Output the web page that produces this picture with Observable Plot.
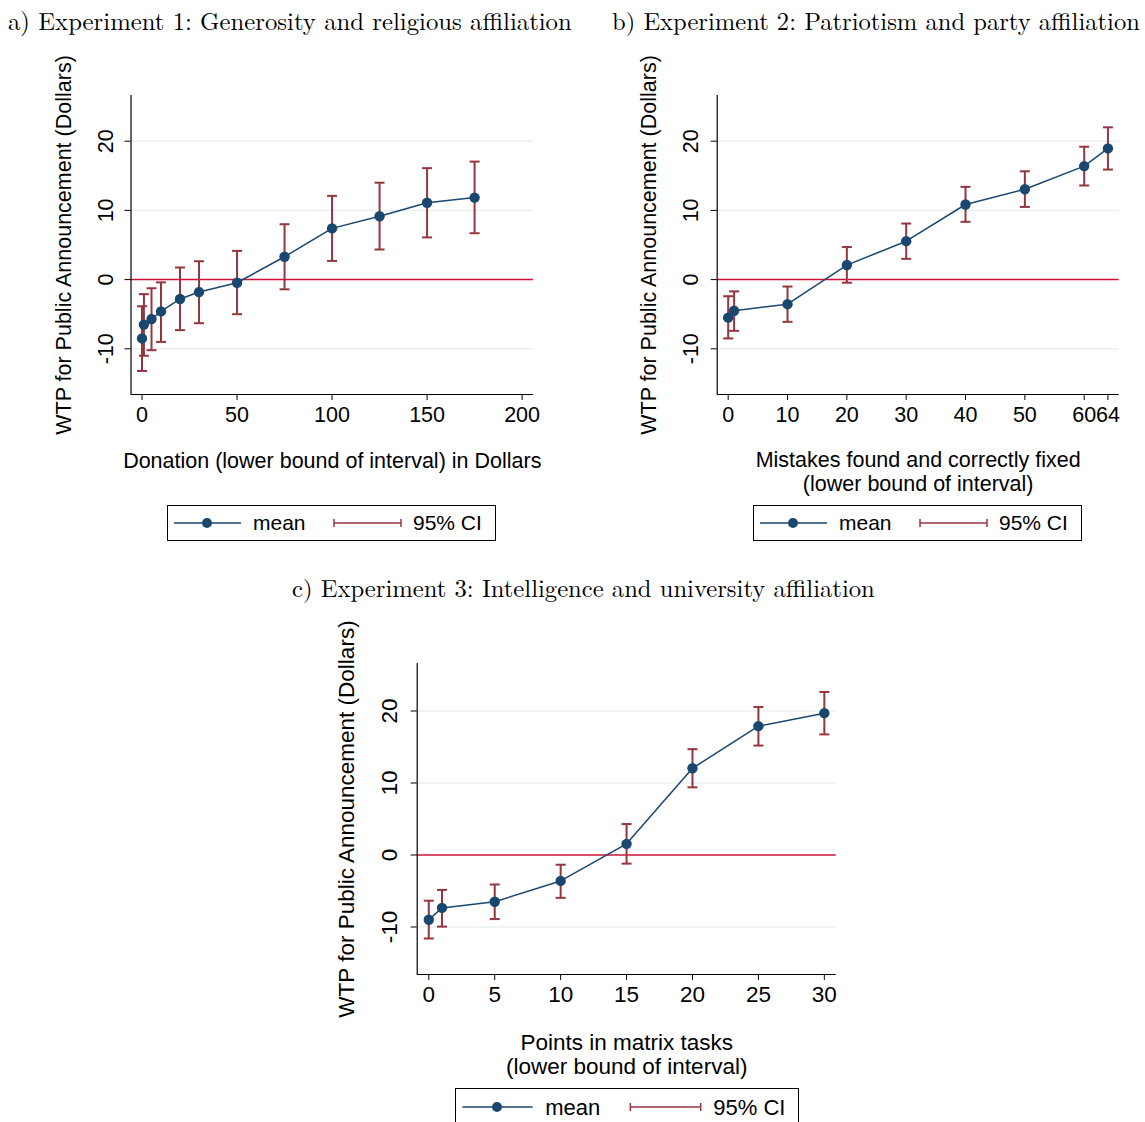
<!DOCTYPE html>
<html>
<head>
<meta charset="utf-8">
<script src="https://cdn.jsdelivr.net/npm/d3@7"></script>
<script src="https://cdn.jsdelivr.net/npm/@observablehq/plot@0.6"></script>
<style>
  html, body { margin: 0; padding: 0; background: #fff; }
  #wrap { position: relative; width: 1145px; height: 1122px; overflow: hidden; background: #fff; }
  .title { position: absolute; white-space: nowrap; font-family: "Latin Modern Roman", "Liberation Serif", "DejaVu Serif", serif; color: #000; line-height: 1; }
  .panel { position: absolute; }
  .legend { position: absolute; }
</style>
</head>
<body>
<div id="wrap"></div>
<script>
// ---------- data ----------
const yTicks = [-10, 0, 10, 20];
const gridTicks = [-10, 10, 20];

const aTitle = "a) Experiment 1: Generosity and religious affiliation";
const aX    = [0, 1, 5, 10, 20, 30, 50, 75, 100, 125, 150, 175];
const aMean = [-8.5, -6.5, -5.7, -4.6, -2.8, -1.8, -0.45, 3.3, 7.4, 9.15, 11.1, 11.85];
const aLo   = [-13.2, -11.0, -10.2, -9.0, -7.3, -6.3, -5.0, -1.4, 2.7, 4.35, 6.1, 6.7];
const aHi   = [-3.85, -2.1, -1.25, -0.4, 1.75, 2.65, 4.15, 8.0, 12.1, 14.0, 16.1, 17.05];
const aTicks = [0, 50, 100, 150, 200];
const aXTitle = "Donation (lower bound of interval) in Dollars";

const bTitle = "b) Experiment 2: Patriotism and party affiliation";
const bX    = [0, 1, 10, 20, 30, 40, 50, 60, 64];
const bMean = [-5.5, -4.5, -3.55, 2.1, 5.55, 10.85, 13.05, 16.4, 18.95];
const bLo   = [-8.5, -7.4, -6.1, -0.45, 3.0, 8.35, 10.5, 13.6, 15.9];
const bHi   = [-2.4, -1.7, -1.0, 4.7, 8.1, 13.4, 15.65, 19.2, 22.0];
const bTicks = [0, 10, 20, 30, 40, 50, 60, 64];
const bXTitle = "Mistakes found and correctly fixed\n(lower bound of interval)";

const cTitle = "c) Experiment 3: Intelligence and university affiliation";
const cX    = [0, 1, 5, 10, 15, 20, 25, 30];
const cMean = [-9.0, -7.35, -6.5, -3.6, 1.55, 12.05, 17.9, 19.7];
const cLo   = [-11.6, -9.95, -8.9, -5.95, -1.2, 9.4, 15.2, 16.75];
const cHi   = [-6.35, -4.85, -4.1, -1.35, 4.3, 14.7, 20.55, 22.65];
const cTicks = [0, 5, 10, 15, 20, 25, 30];
const cXTitle = "Points in matrix tasks\n(lower bound of interval)";

const yLabel = "WTP for Public Announcement (Dollars)";
const legendLabels = ["mean", "95% CI"];

// ---------- style ----------
const NAVY = "#1a476f";
const CI = "#93363f";
const ZERO = "#d0103a";
const GRID = "#e8eff1";
const SANS = "'Liberation Sans', Arial, Helvetica, sans-serif";

const rowsOf = (xs, m, lo, hi) => xs.map((x, i) => ({x, mean: m[i], lo: lo[i], hi: hi[i]}));

const capSymbol = {
  draw(ctx, size) {
    const r = Math.sqrt(size / Math.PI);
    ctx.moveTo(-r, 0);
    ctx.lineTo(r, 0);
  }
};

const wrap = document.getElementById("wrap");

function panel(cfg) {
  const {box, frame, xDomain, yDomain, xTicks, rows, xTitle, titleDy, fs, ylabDx, yTickDx} = cfg;
  const width = box.r - box.l, height = box.b - box.t;
  const chart = Plot.plot({
    width, height,
    marginLeft: frame.l - box.l,
    marginRight: box.r - frame.r,
    marginTop: frame.t - box.t,
    marginBottom: box.b - frame.b,
    x: {domain: xDomain},
    y: {domain: yDomain},
    style: {fontFamily: SANS, fontSize: fs + "px", color: "#000", background: "transparent", overflow: "visible"},
    marks: [
      Plot.ruleY(gridTicks, {stroke: GRID, strokeWidth: 1.5}),
      Plot.ruleY([0], {stroke: ZERO, strokeWidth: 1.5}),
      Plot.ruleX([xDomain[0]], {stroke: "#000", strokeWidth: 1.2}),
      Plot.ruleY([yDomain[0]], {stroke: "#000", strokeWidth: 1.2}),
      Plot.axisX({ticks: xTicks, tickSize: 6, tickPadding: 6, tickFormat: d => String(d), label: null, fontSize: fs}),
      Plot.axisY({ticks: yTicks, tickSize: 6, tickFormat: () => "", label: null}),
      Plot.text(yTicks, {y: d => d, text: d => String(d), frameAnchor: "left", dx: yTickDx, rotate: -90, textAnchor: "middle", lineAnchor: "middle", fontSize: fs}),
      Plot.text([yLabel], {text: d => d, frameAnchor: "left", dx: ylabDx, rotate: -90, textAnchor: "middle", lineAnchor: "middle", fontSize: fs}),
      Plot.text([xTitle], {text: d => d, frameAnchor: "bottom", dy: titleDy, lineAnchor: "middle", lineHeight: 1.08, fontSize: fs}),
      Plot.line(rows, {x: "x", y: "mean", stroke: NAVY, strokeWidth: 1.5}),
      Plot.ruleX(rows, {x: "x", y1: "lo", y2: "hi", stroke: CI, strokeWidth: 2}),
      Plot.dot(rows, {x: "x", y: "lo", symbol: capSymbol, r: 5, fill: "none", stroke: CI, strokeWidth: 2}),
      Plot.dot(rows, {x: "x", y: "hi", symbol: capSymbol, r: 5, fill: "none", stroke: CI, strokeWidth: 2}),
      Plot.dot(rows, {x: "x", y: "mean", r: 5.2, fill: NAVY})
    ]
  });
  const div = document.createElement("div");
  div.className = "panel";
  div.style.left = box.l + "px";
  div.style.top = box.t + "px";
  div.appendChild(chart);
  wrap.appendChild(div);
}

function legend(left, top, w, h, s, fs) {
  const div = document.createElement("div");
  div.className = "legend";
  div.style.left = left + "px";
  div.style.top = top + "px";
  const cy = h / 2;
  div.innerHTML = `<svg width="${w}" height="${h}" style="font-family:${SANS};font-size:${fs}px">
    <rect x="0.5" y="0.5" width="${w - 1}" height="${h - 1}" fill="#fff" stroke="#000" stroke-width="1"/>
    <line x1="${7*s}" x2="${74*s}" y1="${cy}" y2="${cy}" stroke="${NAVY}" stroke-width="1.5"/>
    <circle cx="${40*s}" cy="${cy}" r="5" fill="${NAVY}"/>
    <text x="${86*s}" y="${cy}" dy="0.35em" fill="#000">${legendLabels[0]}</text>
    <line x1="${167*s}" x2="${234*s}" y1="${cy}" y2="${cy}" stroke="${CI}" stroke-width="1.5"/>
    <line x1="${167*s}" x2="${167*s}" y1="${cy-4}" y2="${cy+4}" stroke="${CI}" stroke-width="1.5"/>
    <line x1="${234*s}" x2="${234*s}" y1="${cy-4}" y2="${cy+4}" stroke="${CI}" stroke-width="1.5"/>
    <text x="${246*s}" y="${cy}" dy="0.35em" fill="#000">${legendLabels[1]}</text>
  </svg>`;
  wrap.appendChild(div);
}

function title(text, left, baseline, targetW) {
  const d = document.createElement("div");
  d.className = "title";
  d.textContent = text;
  d.style.fontSize = "23px";
  wrap.appendChild(d);
  const w = d.getBoundingClientRect().width;
  const fs = 23 * targetW / w;
  d.style.fontSize = fs + "px";
  d.style.left = left + "px";
  d.style.top = (baseline - fs * 0.86) + "px";
}

// ---------- panels ----------
panel({
  box: {l: 0, t: 40, r: 565, b: 500},
  frame: {l: 130.5, t: 95, r: 533, b: 394},
  xDomain: [-5.8, 206], yDomain: [-16.6, 26.6],
  xTicks: aTicks, rows: rowsOf(aX, aMean, aLo, aHi),
  xTitle: aXTitle, titleDy: 66, fs: 21.5, ylabDx: -67, yTickDx: -25
});
panel({
  box: {l: 580, t: 40, r: 1145, b: 500},
  frame: {l: 716.7, t: 95, r: 1118.7, b: 394},
  xDomain: [-1.85, 65.9], yDomain: [-16.6, 26.6],
  xTicks: bTicks, rows: rowsOf(bX, bMean, bLo, bHi),
  xTitle: bXTitle, titleDy: 77, fs: 21.5, ylabDx: -68, yTickDx: -26
});
panel({
  box: {l: 280, t: 610, r: 880, b: 1085},
  frame: {l: 416.7, t: 663, r: 835.7, b: 974},
  xDomain: [-0.88, 30.9], yDomain: [-16.6, 26.6],
  xTicks: cTicks, rows: rowsOf(cX, cMean, cLo, cHi),
  xTitle: cXTitle, titleDy: 80, fs: 22.5, ylabDx: -70, yTickDx: -27
});

legend(167, 505, 329, 36, 1, 21);
legend(753, 505, 329, 36, 1, 21);
legend(455, 1088, 344, 38, 1.05, 22);

title(aTitle, 8, 29, 564);
title(bTitle, 612, 29, 528);
title(cTitle, 292, 596, 583);
</script>
</body>
</html>
